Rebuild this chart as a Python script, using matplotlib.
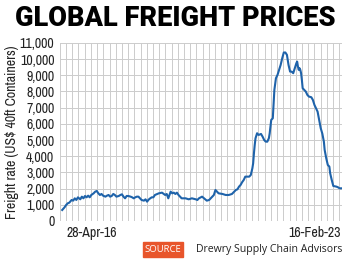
import matplotlib.pyplot as plt
from matplotlib import font_manager
from matplotlib.patches import Rectangle
from matplotlib.ticker import FuncFormatter
import numpy as np

# weeks since 28-Apr-16, and Drewry WCI composite (US$ per 40ft container)
weeks = [
    0, 3, 5, 7, 9, 12, 14, 16, 18, 20, 23, 25, 27, 29, 31, 33, 35, 37, 40, 42,
    44, 46, 48, 50, 52, 55, 57, 59, 61, 63, 65, 67, 69, 72, 74, 76, 78, 80, 82, 84,
    87, 89, 91, 93, 95, 97, 99, 101, 104, 106, 108, 110, 112, 114, 116, 118, 123, 127, 131, 133,
    135, 138, 140, 142, 144, 146, 148, 150, 152, 157, 161, 165, 170, 172, 174, 178, 182, 184, 187, 189,
    191, 193, 195, 197, 199, 204, 208, 212, 216, 219, 221, 223, 225, 227, 229, 231, 233, 236, 238, 240,
    242, 243, 244, 245, 246, 248, 250, 253, 255, 257, 259, 261, 263, 264, 266, 268, 270, 272, 274, 276,
    278, 280, 282, 284, 286, 288, 290, 292, 294, 296, 298, 299, 300, 301, 302, 303, 304, 305, 306, 310,
    312, 314, 317, 319, 321, 323, 325, 327, 329, 331, 333, 334, 336, 338, 340, 341, 343, 345, 349, 351,
    353, 355,
]
rate = [
    680, 846, 989, 1092, 1133, 1298, 1257, 1401, 1298, 1463, 1339, 1504, 1401, 1545, 1463, 1566, 1463, 1607, 1710, 1813,
    1854, 1710, 1607, 1669, 1566, 1504, 1566, 1607, 1504, 1545, 1669, 1607, 1504, 1545, 1607, 1648, 1504, 1401, 1545, 1545,
    1504, 1463, 1401, 1463, 1504, 1504, 1401, 1298, 1257, 1339, 1195, 1320, 1401, 1463, 1463, 1607, 1710, 1751, 1607, 1669,
    1401, 1813, 1710, 1751, 1669, 1751, 1607, 1504, 1401, 1401, 1339, 1401, 1339, 1298, 1401, 1504, 1339, 1257, 1298, 1401,
    1504, 1607, 1916, 1813, 1710, 1669, 1607, 1607, 1669, 1813, 1916, 1957, 2122, 2225, 2400, 2534, 2740, 2740, 2740, 2843,
    3255, 3564, 4183, 4697, 5111, 5420, 5315, 5377, 5210, 5006, 4900, 4900, 5111, 5400, 6242, 6345, 8096, 8820, 9024, 9333,
    9642, 10055, 10407, 10407, 10260, 9642, 9227, 9227, 9128, 9437, 9747, 9845, 9536, 9333, 9437, 9333, 9128, 8714, 8201, 7992,
    7787, 7683, 7645, 7478, 7169, 6965, 6755, 6242, 5729, 5400, 4900, 4388, 3875, 3461, 3356, 2948, 2534, 2163, 2122, 2081,
    2019, 2019,
]
y_ticks = list(range(0, 11001, 1000))
x_labels = ["28-Apr-16", "16-Feb-23"]

# pick a narrow face if one is installed, else fall back to a regular one
narrow_names = sorted({f.name for f in font_manager.fontManager.ttflist
                       if "Condensed" in f.name or "Narrow" in f.name
                       or f.stretch in ("condensed", "semi-condensed", 500, 300)})
if narrow_names:
    narrow, nsize = narrow_names[0], 10
else:
    narrow, nsize = "Roboto", 8.5

fig = plt.figure(figsize=(3.5, 2.6), dpi=100)
ax = fig.add_axes([0.171, 0.15, 0.806, 0.685])

ax.plot(weeks, rate, color="#1f63aa", linewidth=1.5, solid_joinstyle="round")

ax.set_xlim(-3, 356)
ax.set_ylim(0, 11000)
ax.set_yticks(y_ticks)
ax.set_xticks(np.arange(-3, 357, 7.9))
ax.set_xticklabels([])
ax.yaxis.set_major_formatter(FuncFormatter(lambda v, _: f"{int(v):,}"))
ax.tick_params(length=0, pad=4)
ax.grid(True, color="#cccccc", linewidth=0.7)
ax.set_axisbelow(True)
for side in ax.spines.values():
    side.set_visible(False)
for lbl in ax.get_yticklabels():
    lbl.set_fontfamily(narrow)
    lbl.set_fontstretch("condensed")
    lbl.set_fontsize(nsize)
    lbl.set_color("#222222")

fig.text(12 / 350, 1 - 132 / 260, "Freight rate (US$ 40ft Containers)", rotation=90,
         ha="center", va="center", fontfamily=narrow, fontstretch="condensed",
         fontsize=nsize, color="#222222")

xt = ax.get_xaxis_transform()
ax.text(weeks[0] + 5, -0.03, x_labels[0], transform=xt, ha="left", va="top",
        fontfamily=narrow, fontstretch="condensed", fontsize=nsize, color="#222222")
ax.text(weeks[-1], -0.03, x_labels[1], transform=xt, ha="right", va="top",
        fontfamily=narrow, fontstretch="condensed", fontsize=nsize, color="#222222")

fig.text(175 / 350, 1 - 19 / 260, "GLOBAL FREIGHT PRICES", ha="center", va="center",
         fontfamily=["Roboto", "DejaVu Sans"], fontweight="black", fontsize=19.5,
         color="black")

fig.patches.append(Rectangle((143 / 350, 1 - 257 / 260), 40 / 350, 15 / 260,
                             transform=fig.transFigure, color="#e8552b"))
fig.text(163 / 350, 1 - 249.5 / 260, "SOURCE", ha="center", va="center",
         fontfamily="Open Sans", fontsize=6.8, color="white")
fig.text(342 / 350, 1 - 249.5 / 260, "Drewry Supply Chain Advisors", ha="right",
         va="center", fontfamily="Open Sans", fontsize=7.6, color="#222222")

fig.savefig("out.png", dpi=100)
